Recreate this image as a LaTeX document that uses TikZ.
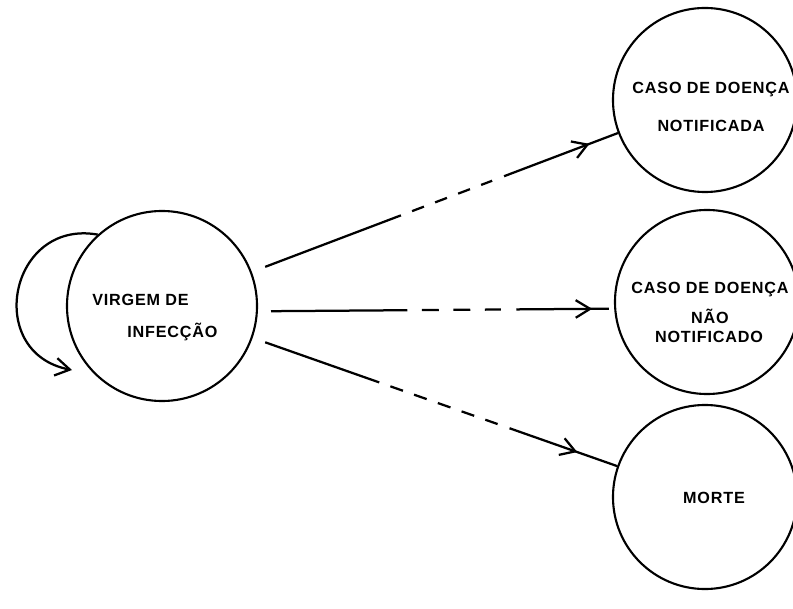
\documentclass[tikz,border=0pt]{standalone}
\usepackage{fontspec}
\newfontfamily\lettering[LetterSpace=5]{Liberation Sans}
\usetikzlibrary{calc,arrows.meta,decorations.markings}

\tikzset{
    state/.style={draw, circle, line width=1.5pt, inner sep=0pt, minimum size=4.6cm},
    word/.style={font=\lettering\bfseries\fontsize{11.5}{13}\selectfont, inner sep=0pt},
    solidpart/.style={line width=1.6pt},
    dashpart/.style 2 args={line width=1.6pt, dash pattern=on #1 off #2, shorten <=#2, shorten >=#2+0.6pt},
    headat/.style={postaction={decorate}, decoration={markings,
        mark=at position #1 with {\arrow{Straight Barb[length=3.6mm,width=4.4mm,line width=1.6pt]}}}}
}

\begin{document}
\begin{tikzpicture}[x=0.025cm, y=0.025cm]
    \useasboundingbox (0,0) rectangle (793,-609);

    % the four states
        \node[state, minimum size=4.75cm] (virgem) at (162,-306) {};
        \node[state] (notif) at (705,-100) {};
        \node[state] (naonotif) at (707,-302) {};
        \node[state] (morte) at (705,-497) {};

    % texts inside the circles
        \node[word, anchor=west] (virgem1) at (92,-300) {VIRGEM DE};
        \node[word, anchor=west] (virgem2) at (127,-332) {INFECÇÃO};
        \node[word] (notif1) at (711,-90) {CASO DE DOENÇA};
        \node[word] (notif2) at (711,-126) {NOTIFICADA};
        \node[word] (nao1) at (710,-290) {CASO DE DOENÇA};
        \node[word] (nao2) at (710,-316) {NÃO};
        \node[word] (nao3) at (709,-337) {NOTIFICADO};
        \node[word] (morte1) at (714,-498) {MORTE};

    % loop back onto the first state
        \coordinate (L) at (72,-370);
        \draw[solidpart, -{Straight Barb[length=3.6mm,width=4.4mm]}] (virgem.132) to[out=170, in=169, looseness=1.67] (L);

    % top connector
        \coordinate (a1) at ($(virgem)!0.19!(notif)$);
        \coordinate (b1) at ($(virgem)!0.44!(notif)$);
        \coordinate (c1) at ($(virgem)!0.63!(notif)$);
        \draw[solidpart] (a1) -- (b1);
        \draw[dashpart={9pt}{8.5pt}] (b1) -- (c1);
        \draw[solidpart, headat=0.75] (c1) -- (notif);

    % middle connector
        \coordinate (a2) at ($(virgem)!0.20!(naonotif)+(0,-6)$);
        \coordinate (b2) at ($(virgem)!0.45!(naonotif)+(0,-6)$);
        \coordinate (c2) at ($(virgem)!0.65!(naonotif)+(0,-6)$);
        \coordinate (d2) at ($(virgem)!0.82!(naonotif)+(0,-6)$);
        \draw[solidpart] (a2) -- (b2);
        \draw[dashpart={12pt}{10.4pt}] (b2) -- (c2);
        \draw[solidpart, headat=0.82] (c2) -- (d2);

    % bottom connector
        \coordinate (a3) at ($(virgem)!0.19!(morte)$);
        \coordinate (b3) at ($(virgem)!0.40!(morte)$);
        \coordinate (c3) at ($(virgem)!0.64!(morte)$);
        \draw[solidpart] (a3) -- (b3);
        \draw[dashpart={9.5pt}{8.4pt}] (b3) -- (c3);
        \draw[solidpart, headat=0.63] (c3) -- (morte);
\end{tikzpicture}
\end{document}
